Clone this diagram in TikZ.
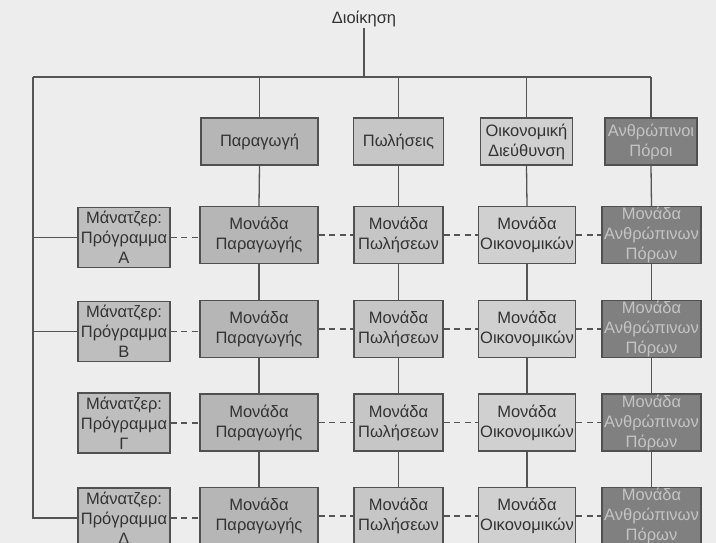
\documentclass[tikz,border=0pt]{standalone}
\usepackage{fontspec}
\setmainfont{Liberation Sans}
\definecolor{bg}{HTML}{EDEDED}
\definecolor{boxline}{HTML}{505050}
\definecolor{linec}{HTML}{555555}
\definecolor{txt}{HTML}{333333}
\definecolor{txtlight}{HTML}{C4C4C4}
\definecolor{cP}{HTML}{B6B6B6}
\definecolor{cS}{HTML}{C6C6C6}
\definecolor{cO}{HTML}{D0D0D0}
\definecolor{cH}{HTML}{808080}
\definecolor{cM}{HTML}{BEBEBE}
\begin{document}
\begin{tikzpicture}[x=1pt,y=-1pt,
  box/.style={draw=boxline, line width=1.4pt, inner sep=0pt, align=center,
    font=\fontsize{16.5}{20}\selectfont, text=txt},
  topbox/.style={box, minimum height=47pt},
  unitbox/.style={box, minimum height=57pt},
  mgrbox/.style={box, fill=cM, minimum width=92pt, minimum height=60pt},
  hrbox/.style={fill=cH, text=txtlight},
  conn/.style={draw=linec, line width=1.3pt},
  dashconn/.style={draw=linec, line width=1.3pt, dash pattern=on 6pt off 4.5pt}]
\useasboundingbox[fill=bg] (0,0) rectangle (716,543);

% title
\node[font=\fontsize{16.5}{20}\selectfont, text=txt, inner sep=1pt] (dio) at (364,19) {Διοίκηση};
\coordinate (busL) at (33,77);

% top department boxes
\node[topbox, fill=cP, minimum width=117pt] (tP) at (259.5,141.5) {Παραγωγή};
\node[topbox, fill=cS, minimum width=90pt] (tS) at (398.5,141.5) {Πωλήσεις};
\node[topbox, fill=cO, minimum width=92pt] (tO) at (526.5,141.5) {Οικονομική\\Διεύθυνση};
\node[topbox, hrbox, minimum width=92pt] (tH) at (651,141.5) {Ανθρώπινοι\\Πόροι};

% manager boxes
\node[mgrbox] (mA) at (124,237.5) {Μάνατζερ:\\Πρόγραμμα\\Α};
\node[mgrbox] (mB) at (124,331.5) {Μάνατζερ:\\Πρόγραμμα\\Β};
\node[mgrbox] (mG) at (124,423) {Μάνατζερ:\\Πρόγραμμα\\Γ};
\node[mgrbox] (mD) at (124,518) {Μάνατζερ:\\Πρόγραμμα\\Δ};

% unit boxes
\foreach \r/\y in {A/235, B/329, G/422.5, D/516}{
  \node[unitbox, fill=cP, minimum width=118pt] (uP\r) at (259,\y) {Μονάδα\\Παραγωγής};
  \node[unitbox, fill=cS, minimum width=89pt] (uS\r) at (398.5,\y) {Μονάδα\\Πωλήσεων};
  \node[unitbox, fill=cO, minimum width=97pt] (uO\r) at (527,\y) {Μονάδα\\Οικονομικών};
  \node[unitbox, hrbox, minimum width=99pt] (uH\r) at (651.5,\y) {Μονάδα\\Ανθρώπινων\\Πόρων};
}

% solid connectors
\draw[conn] (dio.south) -- (dio.south |- busL);
\draw[conn] (busL) -- (tH.north |- busL);
\foreach \c in {P,S,O,H}{
  \draw[conn] (t\c.north |- busL) -- (t\c.north);
  \draw[conn] (t\c.south) -- (u\c A.north);
  \draw[conn] (u\c A.south) -- (u\c B.north);
  \draw[conn] (u\c B.south) -- (u\c G.north);
  \draw[conn] (u\c G.south) -- (u\c D.north);
}
\draw[conn] (busL) |- (mD.west);
\draw[conn] (busL |- mA.west) -- (mA.west);
\draw[conn] (busL |- mB.west) -- (mB.west);

% dashed connectors
\foreach \r in {A,B,G,D}{
  \draw[dashconn] (m\r.east) -- (m\r.east -| uP\r.west);
  \draw[dashconn] (uP\r.east) -- (uS\r.west);
  \draw[dashconn] (uS\r.east) -- (uO\r.west);
  \draw[dashconn] (uO\r.east) -- (uH\r.west);
}
\end{tikzpicture}
\end{document}
